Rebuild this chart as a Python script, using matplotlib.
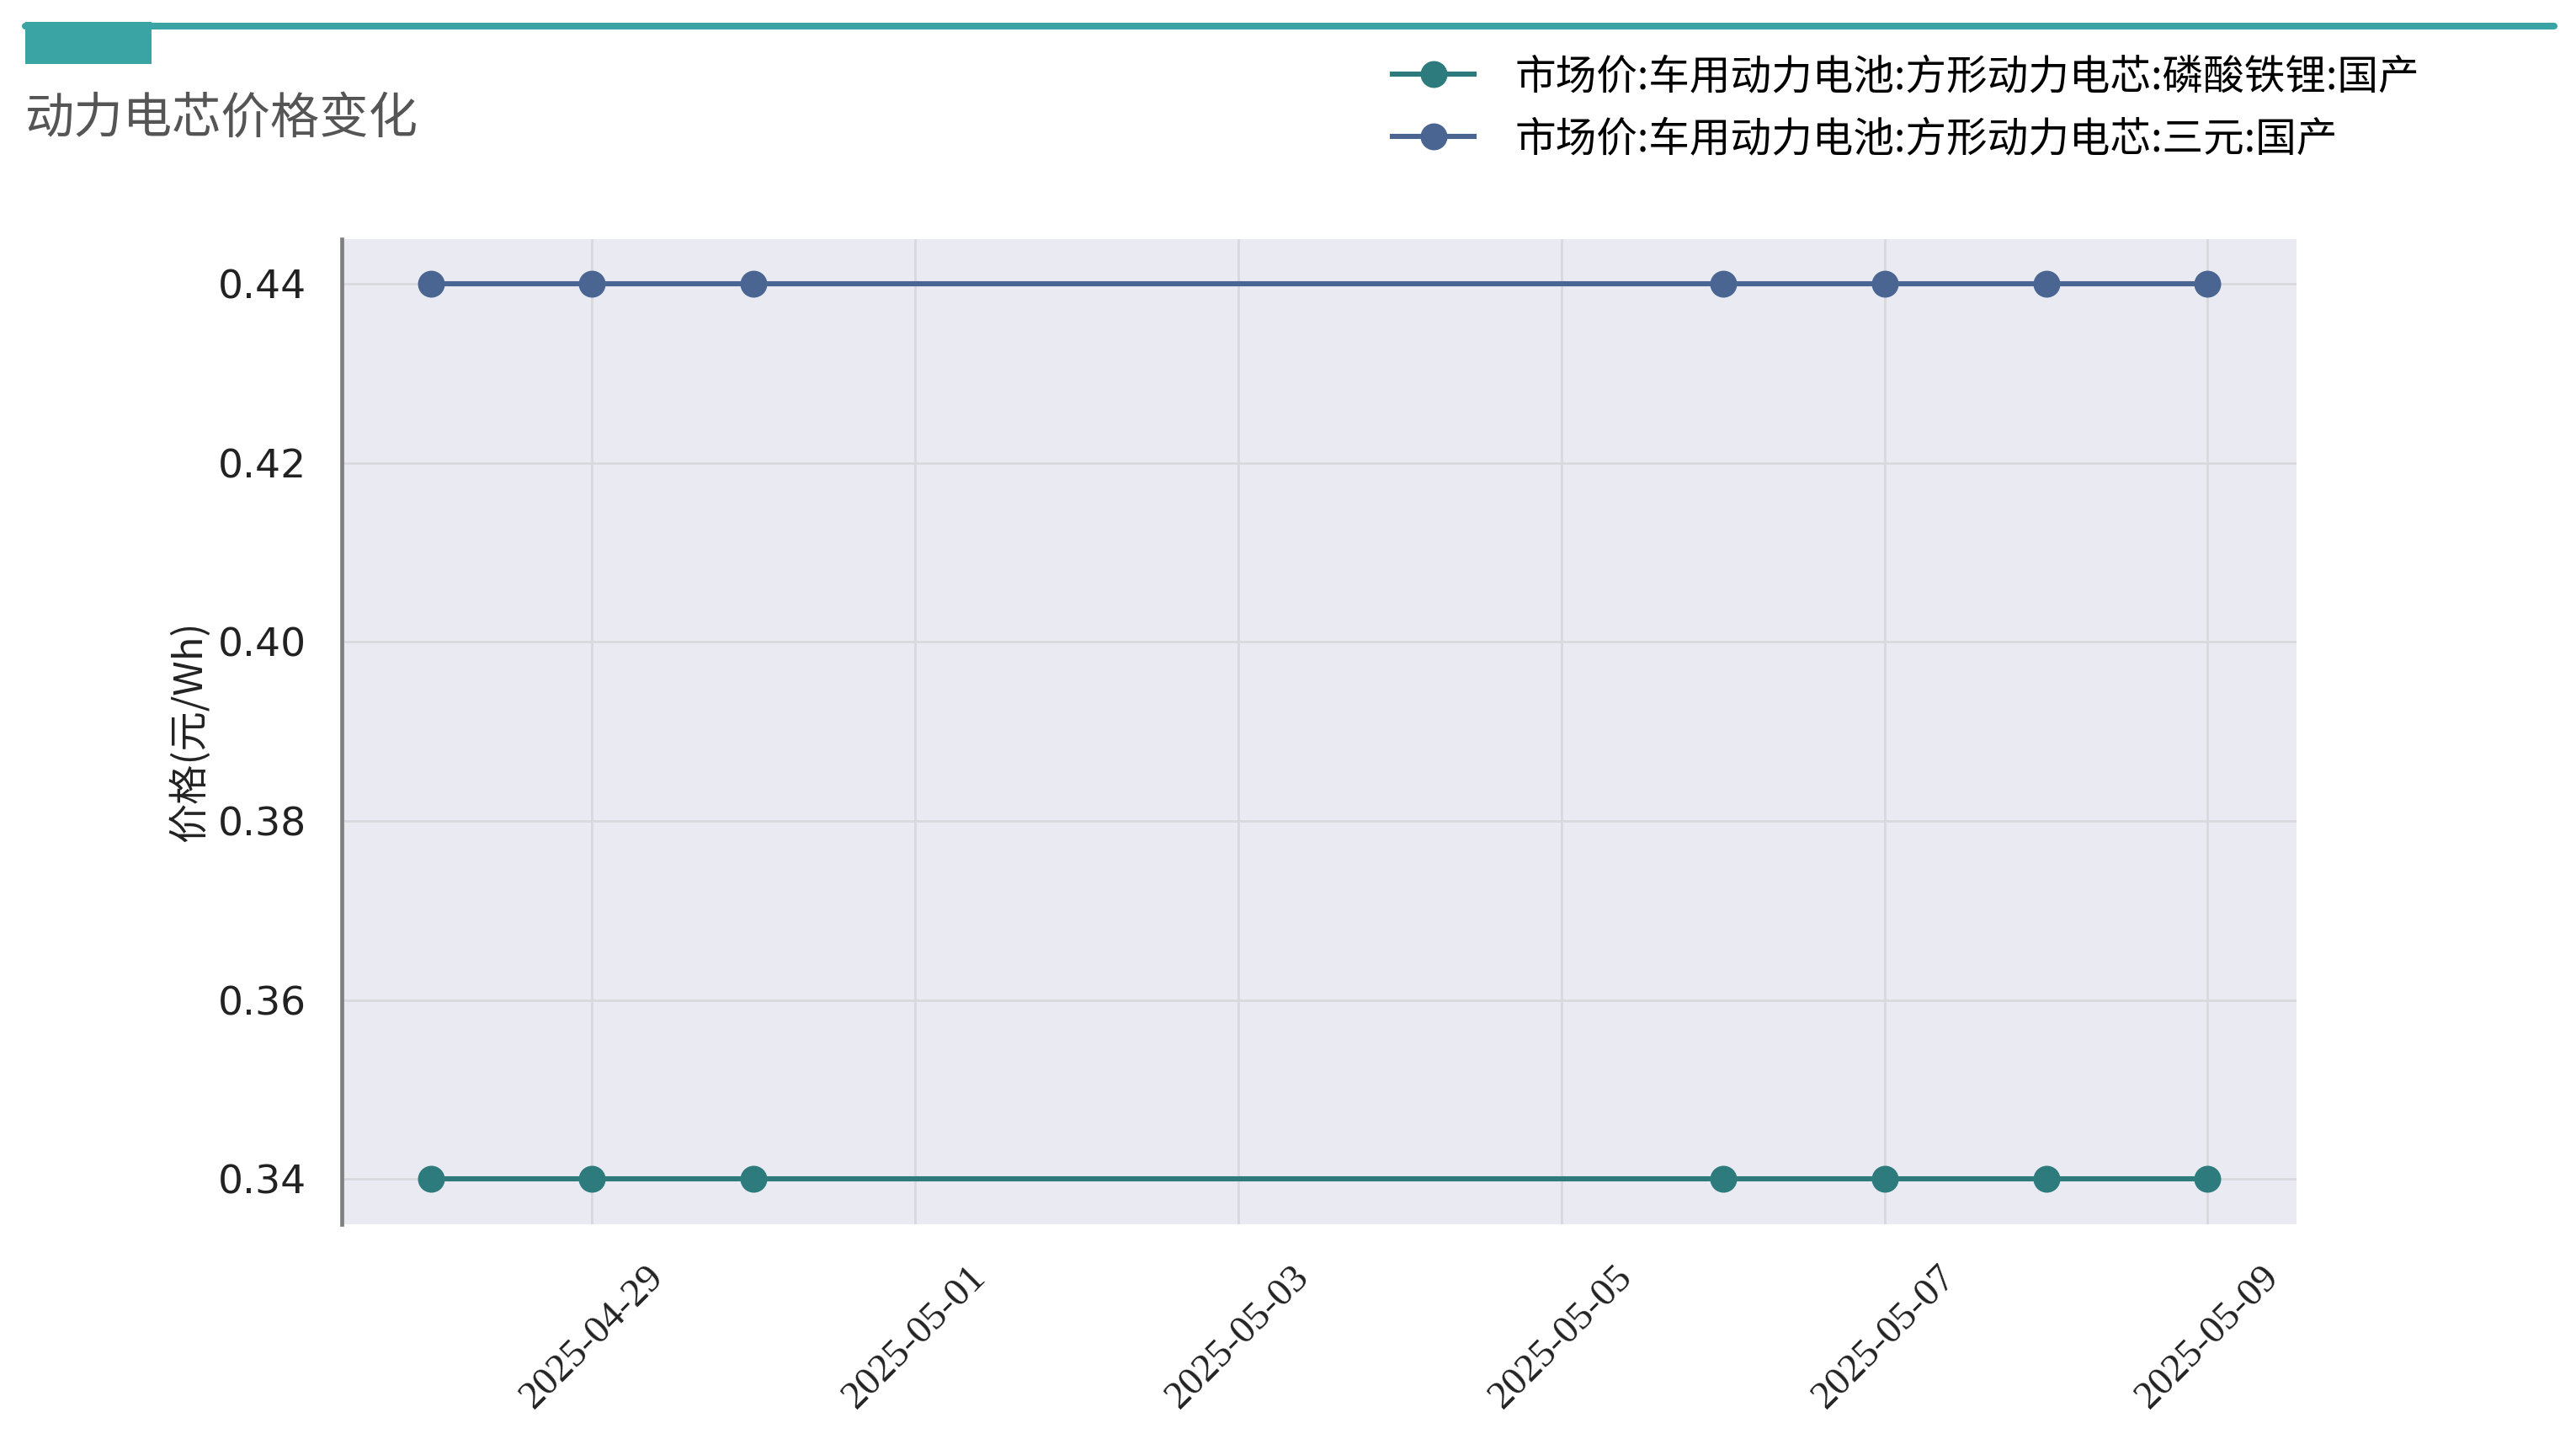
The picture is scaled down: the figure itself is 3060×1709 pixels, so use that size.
import pandas as pd
import matplotlib
matplotlib.use("Agg")
import matplotlib.pyplot as plt
from matplotlib.lines import Line2D
from matplotlib.patches import Rectangle

# ------------------------------------------
# data
# ------------------------------------------
dates = ["2025-04-28", "2025-04-29", "2025-04-30",
         "2025-05-06", "2025-05-07", "2025-05-08", "2025-05-09"]
lfp_price = [0.34, 0.34, 0.34, 0.34, 0.34, 0.34, 0.34]
ncm_price = [0.44, 0.44, 0.44, 0.44, 0.44, 0.44, 0.44]
lfp_name = "市场价:车用动力电池:方形动力电芯:磷酸铁锂:国产"
ncm_name = "市场价:车用动力电池:方形动力电芯:三元:国产"
title = "动力电芯价格变化"
ylabel = "价格(元/Wh)"
xtick_dates = ["2025-04-29", "2025-05-01", "2025-05-03",
               "2025-05-05", "2025-05-07", "2025-05-09"]
ytick_vals = [0.34, 0.36, 0.38, 0.40, 0.42, 0.44]

x = pd.to_datetime(dates)

cjk = ["Noto Sans CJK SC", "DejaVu Sans"]
teal = "#2d7b7c"
blue = "#4a6591"
bar_color = "#3aa3a3"

# ------------------------------------------
# figure
# ------------------------------------------
fig = plt.figure(figsize=(15.3, 8.545), dpi=200)
ax = fig.add_axes([0.1327, 0.1495, 0.8915 - 0.1327, 0.834 - 0.1495])
ax.set_facecolor("#eaeaf2")

ax.plot(x, lfp_price, color=teal, lw=2.2, marker="o", markersize=10.5, label=lfp_name)
ax.plot(x, ncm_price, color=blue, lw=2.2, marker="o", markersize=10.5, label=ncm_name)

ax.grid(True, color="#d9d9dd", lw=1.0)
ax.set_axisbelow(True)
for s in ["top", "right", "bottom"]:
    ax.spines[s].set_visible(False)
ax.spines["left"].set_color("#808080")
ax.spines["left"].set_linewidth(1.7)

ax.set_yticks(ytick_vals)
ax.yaxis.set_major_formatter(plt.FormatStrFormatter("%.2f"))
ax.set_xticks(pd.to_datetime(xtick_dates))
ax.set_xticklabels(xtick_dates, rotation=45, fontfamily="Liberation Serif")

ax.tick_params(axis="y", length=0, pad=15, labelsize=17, labelcolor="#222222")
ax.tick_params(axis="x", length=0, pad=15, labelsize=17, labelcolor="#222222")

ax.set_ylabel(ylabel, family=cjk, fontsize=17, color="#222222")
ax.yaxis.set_label_coords(-0.067, 0.5)

# legend at top right
fig.legend(loc="upper left", bbox_to_anchor=(0.5405, 0.961), frameon=False,
           prop={"family": cjk, "size": 17.5}, handlelength=2.0,
           handletextpad=1.0, labelspacing=0.5, borderpad=0, borderaxespad=0)

# title and header decoration
fig.text(0.0098, 0.917, title, family=cjk, fontsize=21, color="#555555",
         ha="left", va="center")
fig.add_artist(Line2D([30 / 3060, 3034 / 3060], [1 - 30.5 / 1709, 1 - 30.5 / 1709],
                      color=bar_color, lw=2.9, solid_capstyle="round",
                      transform=fig.transFigure))
fig.add_artist(Rectangle((30 / 3060, 1 - 76 / 1709), 150 / 3060, 50 / 1709,
                         color=bar_color, transform=fig.transFigure, lw=0))

fig.savefig("out.png", dpi=200)
